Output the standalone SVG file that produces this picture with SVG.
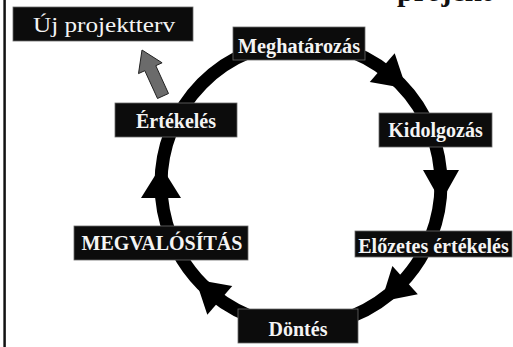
<svg xmlns="http://www.w3.org/2000/svg" width="513" height="347" viewBox="0 0 513 347">
<style>
.box{fill:#0c0c0c;stroke:#6a6a6a;stroke-width:0.8}
.lbl{font-family:"Liberation Serif","Times New Roman",serif;font-weight:bold;font-size:20px;fill:#f4f4f4;text-anchor:middle}
.head{fill:#000}
</style>
<rect x="0" y="0" width="513" height="347" fill="#fff"/>
<line x1="4.6" y1="0" x2="4.6" y2="347" stroke="#111" stroke-width="2.5"/>
<text x="397" y="1" font-family="'Liberation Serif','Times New Roman',serif" font-weight="bold" font-size="30" fill="#111">projekt</text>
<g id="connectors">
<ellipse cx="301" cy="184" rx="140" ry="142" fill="none" stroke="#000" stroke-width="13"/>
<polygon class="head" points="18,0 -14,-19 -14,19" transform="translate(392.8,76.8) rotate(41)"/>
<polygon class="head" points="18,0 -14,-18 -14,18" transform="translate(441,184) rotate(90)"/>
<polygon class="head" points="18,0 -14,-19 -14,19" transform="translate(394.7,289.5) rotate(138)"/>
<polygon class="head" points="18,0 -14,-19 -14,19" transform="translate(209.2,291.2) rotate(221)"/>
<polygon class="head" points="18,0 -14,-20 -14,20" transform="translate(161,184) rotate(270)"/>
<polygon points="168.5,93.5 155.8,65.7 162.1,62.8 142,50 138.5,73.6 144.8,70.7 157.5,98.5" fill="#6b6b6b" stroke="#222" stroke-width="1"/>
</g>
<g id="node-uj">
<rect class="box" x="13" y="7" width="180" height="34"/>
<text x="104" y="32" font-family="'Liberation Serif','Times New Roman',serif" font-size="22" fill="#f4f4f4" text-anchor="middle" textLength="142" lengthAdjust="spacingAndGlyphs">Új projektterv</text>
</g>
<g id="node-meghatarozas">
<rect class="box" x="233" y="27" width="132" height="33"/>
<text class="lbl" x="299" y="53" textLength="122" lengthAdjust="spacingAndGlyphs">Meghatározás</text>
</g>
<g id="node-kidolgozas">
<rect class="box" x="379" y="113" width="113" height="34"/>
<text class="lbl" x="435.5" y="137">Kidolgozás</text>
</g>
<g id="node-elozetes">
<rect class="box" x="355" y="231" width="157" height="26"/>
<text class="lbl" x="433.5" y="253">Előzetes értékelés</text>
</g>
<g id="node-dontes">
<rect class="box" x="238" y="309" width="120" height="34"/>
<text class="lbl" x="298" y="336">Döntés</text>
</g>
<g id="node-megvalositas">
<rect class="box" x="74" y="226" width="174" height="34"/>
<text class="lbl" x="162" y="250">MEGVALÓSÍTÁS</text>
</g>
<g id="node-ertekeles">
<rect class="box" x="115" y="103" width="122" height="34"/>
<text class="lbl" x="176" y="128">Értékelés</text>
</g>
</svg>
